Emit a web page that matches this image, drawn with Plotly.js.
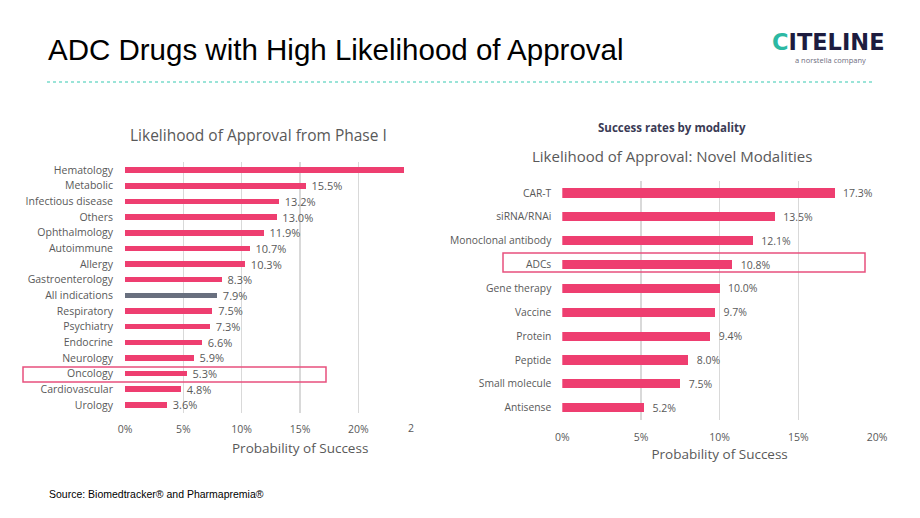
<!DOCTYPE html>
<html>
<head>
<meta charset="utf-8">
<script src="https://cdn.plot.ly/plotly-3.0.1.min.js"></script>
<style>html,body{margin:0;padding:0;background:#fff;}#chart{width:920px;height:518px;}</style>
</head>
<body>
<div id="chart"></div>
<script>
// ---- data ----
const leftCategories = ['Hematology','Metabolic','Infectious disease','Others','Ophthalmology','Autoimmune','Allergy','Gastroenterology','All indications','Respiratory','Psychiatry','Endocrine','Neurology','Oncology','Cardiovascular','Urology'];
const leftValues = [23.9,15.5,13.2,13.0,11.9,10.7,10.3,8.3,7.9,7.5,7.3,6.6,5.9,5.3,4.8,3.6];
const rightCategories = ['CAR-T','siRNA/RNAi','Monoclonal antibody','ADCs','Gene therapy','Vaccine','Protein','Peptide','Small molecule','Antisense'];
const rightValues = [17.3,13.5,12.1,10.8,10.0,9.7,9.4,8.0,7.5,5.2];
const tickValues = [0,5,10,15,20];
const tickLabels = ['0%','5%','10%','15%','20%'];

// ---- layout helpers ----
const W = 920, H = 518;
const px = x => x / W;
const py = y => 1 - y / H;
const PINK = '#ee3e70';
const GREY_BAR = '#69707f';
const TXT = '#595959';
const FONT = '"Open Sans", "Noto Sans", sans-serif';

const pad = '\u00a0\u00a0';
const leftText = leftValues.map((v, i) => i === 0 ? '' : pad + v.toFixed(1) + '%');
const rightText = rightValues.map(v => pad + v.toFixed(1) + '%');
const leftColors = leftCategories.map(c => c === 'All indications' ? GREY_BAR : PINK);

const traces = [
  {
    type: 'bar', orientation: 'h', x: leftValues, y: leftCategories,
    xaxis: 'x', yaxis: 'y', width: 0.36,
    marker: {color: leftColors, line: {width: 0}},
    text: leftText, textposition: 'outside', constraintext: 'none', cliponaxis: true,
    textfont: {family: FONT, size: 11, color: TXT},
    hoverinfo: 'skip'
  },
  {
    type: 'bar', orientation: 'h', x: rightValues, y: rightCategories,
    xaxis: 'x2', yaxis: 'y2', width: 0.38,
    marker: {color: PINK, line: {width: 0}},
    text: rightText, textposition: 'outside', constraintext: 'none', cliponaxis: false,
    textfont: {family: FONT, size: 10.5, color: TXT},
    hoverinfo: 'skip'
  }
];

const axisCommon = {
  showgrid: true, gridcolor: '#d9d9d9', gridwidth: 1.5, zeroline: false,
  showline: false, ticks: '', tickvals: tickValues, ticktext: tickLabels,
  tickfont: {family: FONT, size: 10.5, color: TXT}, fixedrange: true
};

const layout = {
  width: W, height: H,
  margin: {l: 0, r: 0, t: 0, b: 0},
  paper_bgcolor: '#ffffff', plot_bgcolor: 'rgba(0,0,0,0)',
  showlegend: false,
  bargap: 0,
  xaxis: Object.assign({}, axisCommon, {
    domain: [px(125), px(410.8)], range: [0, 24.5], anchor: 'y',
    ticklabelstandoff: 9
  }),
  yaxis: {
    domain: [py(412.8), py(162.2)], autorange: 'reversed', anchor: 'x',
    showgrid: false, zeroline: false, showline: false, ticks: '',
    ticklabelstandoff: 11,
    tickfont: {family: FONT, size: 10.5, color: TXT}, fixedrange: true
  },
  xaxis2: Object.assign({}, axisCommon, {
    domain: [px(562.3), px(877)], range: [0, 20], anchor: 'y2',
    ticklabelstandoff: 10,
    title: {text: 'Probability of Success', font: {family: FONT, size: 13.5, color: TXT}, standoff: 6}
  }),
  yaxis2: {
    domain: [py(419.6), py(181.1)], autorange: 'reversed', anchor: 'x2',
    showgrid: false, zeroline: false, showline: false, ticks: '',
    ticklabelstandoff: 10,
    tickfont: {family: FONT, size: 10.3, color: TXT}, fixedrange: true
  },
  shapes: [
    // dotted rule under the page title
    {type: 'line', xref: 'paper', yref: 'paper', x0: px(47), x1: px(872), y0: py(82), y1: py(82),
     line: {color: '#79dccb', width: 1.5, dash: 'dot'}},
    // Oncology highlight
    {type: 'rect', xref: 'paper', yref: 'paper', x0: px(23), x1: px(326), y0: py(382), y1: py(367),
     line: {color: '#e8507e', width: 1.5}, fillcolor: 'rgba(0,0,0,0)'},
    // ADCs highlight
    {type: 'rect', xref: 'paper', yref: 'paper', x0: px(503), x1: px(865), y0: py(272), y1: py(253),
     line: {color: '#e8507e', width: 1.5}, fillcolor: 'rgba(0,0,0,0)'}
  ],
  annotations: [
    {text: 'ADC Drugs with High Likelihood of Approval', xref: 'paper', yref: 'paper',
     x: px(46), y: py(49), xanchor: 'left', yanchor: 'middle', showarrow: false,
     font: {family: '"Liberation Sans", Arial, sans-serif', size: 29.5, color: '#000000'}},
    {text: '<span style="color:#2cb9a3">C</span>ITELINE', xref: 'paper', yref: 'paper',
     x: px(828), y: py(41.5), xanchor: 'center', yanchor: 'middle', showarrow: false,
     font: {family: '"DejaVu Sans", sans-serif', size: 22.5, color: '#1d1c3f', weight: 'bold'}},
    {text: 'a norstella company', xref: 'paper', yref: 'paper',
     x: px(830), y: py(59.5), xanchor: 'center', yanchor: 'middle', showarrow: false,
     font: {family: FONT, size: 7.5, color: '#6e6e80'}},
    {text: 'Likelihood of Approval from Phase I', xref: 'paper', yref: 'paper',
     x: px(258), y: py(135), xanchor: 'center', yanchor: 'middle', showarrow: false,
     font: {family: FONT, size: 15.5, color: TXT}},
    {text: 'Probability of Success', xref: 'paper', yref: 'paper',
     x: px(300), y: py(448), xanchor: 'center', yanchor: 'middle', showarrow: false,
     font: {family: FONT, size: 13.5, color: TXT}},
    {text: '<b>Success rates by modality</b>', xref: 'paper', yref: 'paper',
     x: px(672), y: py(127), xanchor: 'center', yanchor: 'middle', showarrow: false,
     font: {family: FONT, size: 11.5, color: '#3b3b55'}},
    {text: 'Likelihood of Approval: Novel Modalities', xref: 'paper', yref: 'paper',
     x: px(672), y: py(156), xanchor: 'center', yanchor: 'middle', showarrow: false,
     font: {family: FONT, size: 15, color: TXT}},
    {text: '2', xref: 'paper', yref: 'paper',
     x: px(406), y: py(428), xanchor: 'left', yanchor: 'middle', showarrow: false,
     font: {family: FONT, size: 10.5, color: TXT}},
    {text: 'Source: Biomedtracker\u00ae and Pharmapremia\u00ae', xref: 'paper', yref: 'paper',
     x: px(47), y: py(494), xanchor: 'left', yanchor: 'middle', showarrow: false,
     font: {family: '"Liberation Sans", Arial, sans-serif', size: 10.5, color: '#000000'}}
  ]
};

Plotly.newPlot('chart', traces, layout, {displayModeBar: false, staticPlot: true});
</script>
</body>
</html>
